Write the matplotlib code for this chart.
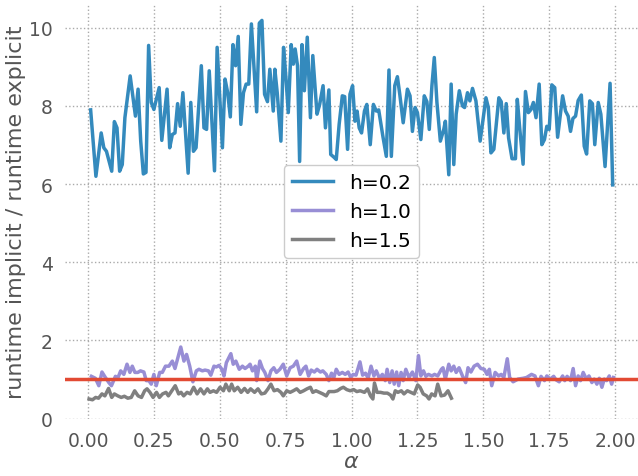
import matplotlib
matplotlib.use("Agg")
import matplotlib.pyplot as plt

# runtime ratio implicit / explicit
alpha_h02 = [0.01, 0.03, 0.05, 0.06, 0.07, 0.09, 0.10, 0.11, 0.12, 0.13, 0.14, 0.16, 0.18, 0.19, 0.20,
             0.21, 0.22, 0.23, 0.24, 0.25, 0.27, 0.28, 0.30, 0.31, 0.32, 0.33, 0.34, 0.35, 0.36, 0.38,
             0.39, 0.40, 0.41, 0.43, 0.44, 0.45, 0.46, 0.48, 0.49, 0.51, 0.52, 0.53, 0.54, 0.55, 0.56,
             0.57, 0.58, 0.59, 0.60, 0.61, 0.62, 0.64, 0.65, 0.66, 0.67, 0.681, 0.690, 0.703, 0.709,
             0.718, 0.732, 0.742, 0.751, 0.760, 0.771, 0.779, 0.786, 0.795, 0.803, 0.812, 0.821, 0.832,
             0.844, 0.853, 0.869, 0.879, 0.892, 0.901, 0.914, 0.921, 0.933, 0.942, 0.953, 0.965, 0.974,
             0.985, 0.994, 1.004, 1.013, 1.021, 1.029, 1.038, 1.049, 1.058, 1.071, 1.083, 1.094, 1.103,
             1.119, 1.132, 1.142, 1.151, 1.164, 1.174, 1.183, 1.196, 1.212, 1.222, 1.231, 1.241, 1.250,
             1.263, 1.276, 1.286, 1.295, 1.305, 1.314, 1.324, 1.337, 1.350, 1.356, 1.369, 1.378, 1.388,
             1.397, 1.409, 1.421, 1.429, 1.440, 1.449, 1.459, 1.472, 1.488, 1.510, 1.519, 1.529, 1.540,
             1.559, 1.568, 1.578, 1.587, 1.596, 1.609, 1.622, 1.629, 1.638, 1.651, 1.660, 1.671, 1.681,
             1.690, 1.700, 1.712, 1.722, 1.732, 1.741, 1.750, 1.760, 1.771, 1.782, 1.801, 1.812, 1.822,
             1.831, 1.840, 1.850, 1.860, 1.872, 1.883, 1.892, 1.904, 1.914, 1.923, 1.936, 1.946, 1.962,
             1.981, 1.991]
ratio_h02 = [7.90, 6.20, 7.31, 6.93, 6.84, 6.33, 7.60, 7.44, 6.33, 6.50, 7.70, 8.77, 7.74, 8.43, 7.10,
             6.26, 6.30, 9.55, 8.09, 7.91, 8.47, 7.12, 8.43, 6.93, 7.27, 7.31, 8.06, 7.48, 8.34, 6.28,
             8.09, 6.84, 6.93, 9.03, 7.44, 7.40, 8.90, 6.34, 9.50, 6.93, 8.69, 8.34, 7.72, 9.57, 9.03,
             9.78, 7.53, 8.34, 8.56, 8.56, 10.10, 7.85, 10.12, 10.19, 8.30, 8.11, 8.94, 7.87, 8.94,
             8.34, 7.10, 9.50, 8.73, 7.83, 9.57, 9.07, 9.46, 9.03, 6.58, 9.57, 8.39, 9.76,
             7.70, 9.29, 7.79, 8.04, 8.52, 7.44, 8.41, 6.76, 6.69, 6.63, 7.53, 8.26, 8.24,
             6.89, 8.30, 8.52, 7.61, 7.87, 7.44, 7.31, 7.87, 8.04, 7.01, 8.04, 7.87, 7.90,
             7.22, 6.71, 8.92, 6.71, 8.52, 8.75, 8.30, 7.57, 8.43, 8.26, 7.35, 7.96, 7.83,
             7.14, 8.26, 8.11, 7.40, 8.52, 9.24, 8.09, 7.10, 7.40, 7.61, 6.24, 8.56, 6.50,
             7.79, 8.39, 8.00, 7.96, 8.34, 8.13, 8.45, 8.13, 7.10, 8.21, 7.96, 6.80, 6.89,
             8.21, 8.11, 7.31, 8.06, 7.18, 6.65, 6.65, 8.17, 7.44, 6.51, 8.37, 7.83, 7.91,
             8.09, 7.70, 8.56, 7.01, 7.14, 7.48, 7.40, 8.54, 8.47, 7.20, 8.26, 7.87, 7.74,
             7.35, 7.68, 7.74, 8.14, 8.28, 6.97, 6.77, 8.13, 8.06, 7.01, 8.09, 7.79, 6.45,
             8.58, 5.98]

alpha_h10 = [0.013, 0.028, 0.041, 0.053, 0.066, 0.079, 0.089, 0.104, 0.114, 0.124, 0.136, 0.148, 0.159,
             0.168, 0.178, 0.189, 0.199, 0.212, 0.221, 0.231, 0.240, 0.250, 0.259, 0.272, 0.282, 0.294,
             0.307, 0.320, 0.330, 0.352, 0.364, 0.374, 0.386, 0.398, 0.411, 0.421, 0.434, 0.444, 0.457,
             0.466, 0.478, 0.487, 0.497, 0.508, 0.516, 0.525, 0.542, 0.551, 0.561, 0.574, 0.586, 0.596,
             0.608, 0.615, 0.624, 0.635, 0.640, 0.652, 0.662, 0.671, 0.683, 0.694, 0.705, 0.715, 0.728,
             0.741, 0.754, 0.767, 0.779, 0.792, 0.805, 0.818, 0.827, 0.837, 0.847, 0.859, 0.869, 0.882,
             0.891, 0.904, 0.914, 0.924, 0.933, 0.942, 0.953, 0.965, 0.976, 0.987, 0.997, 1.006, 1.017,
             1.032, 1.042, 1.053, 1.063, 1.074, 1.085, 1.094, 1.106, 1.117, 1.128, 1.135, 1.145, 1.154,
             1.162, 1.171, 1.179, 1.188, 1.196, 1.206, 1.218, 1.231, 1.244, 1.254, 1.263, 1.273, 1.282,
             1.292, 1.305, 1.315, 1.327, 1.341, 1.347, 1.356, 1.369, 1.378, 1.388, 1.397, 1.408, 1.421,
             1.433, 1.442, 1.453, 1.465, 1.478, 1.491, 1.504, 1.514, 1.523, 1.532, 1.545, 1.558, 1.568,
             1.578, 1.591, 1.600, 1.613, 1.632, 1.651, 1.664, 1.683, 1.696, 1.709, 1.719, 1.732, 1.741,
             1.754, 1.767, 1.776, 1.788, 1.801, 1.809, 1.818, 1.831, 1.841, 1.850, 1.860, 1.869, 1.879,
             1.891, 1.901, 1.912, 1.921, 1.931, 1.940, 1.950, 1.959, 1.968, 1.978, 1.987, 1.994]
ratio_h10 = [1.08, 1.03, 0.84, 1.19, 1.05, 0.92, 0.84, 1.08, 1.05, 1.22, 1.13, 1.39, 1.18,
             1.34, 1.18, 1.18, 1.22, 1.19, 0.97, 0.97, 0.88, 1.13, 0.84, 1.18, 1.18, 1.34,
             1.34, 1.47, 1.28, 1.83, 1.47, 1.64, 1.34, 0.94, 1.22, 1.26, 1.22, 1.24, 1.22,
             1.11, 1.34, 1.32, 1.36, 1.26, 1.09, 1.43, 1.66, 1.39, 1.47, 1.26, 1.34, 1.28,
             1.34, 1.39, 1.22, 1.34, 0.97, 1.47, 1.28, 1.18, 0.97, 1.22, 1.30, 1.18, 1.26,
             1.39, 1.09, 1.30, 1.34, 1.47, 1.13, 1.28, 1.34, 1.09, 1.24, 1.19, 1.26, 1.19,
             1.22, 1.13, 0.97, 1.16, 1.05, 1.26, 1.13, 1.18, 1.13, 1.19, 1.05, 1.13, 1.11,
             1.45, 1.11, 1.16, 1.03, 1.34, 1.09, 1.22, 1.03, 1.13, 0.97, 1.26, 0.92, 1.22,
             0.88, 1.19, 0.84, 1.18, 0.97, 1.26, 1.05, 1.19, 0.97, 1.61, 1.09, 1.22, 1.08,
             1.13, 1.09, 1.13, 1.09, 1.26, 1.30, 1.01, 1.39, 1.22, 1.34, 1.18, 1.30, 1.09,
             0.92, 1.30, 1.19, 1.34, 1.39, 1.28, 1.26, 1.13, 1.26, 0.84, 1.18, 1.09, 1.13,
             1.05, 1.53, 1.05, 0.94, 1.01, 1.03, 1.05, 1.13, 1.09, 0.84, 1.08, 0.97, 1.09,
             1.01, 1.08, 0.99, 0.94, 1.09, 0.97, 1.08, 0.97, 1.28, 0.84, 1.09, 0.97, 1.18,
             1.01, 1.09, 0.92, 1.01, 0.88, 1.03, 0.80, 1.01, 0.97, 1.09, 0.88, 1.05]

alpha_h15 = [0.004, 0.017, 0.029, 0.040, 0.053, 0.064, 0.078, 0.090, 0.100, 0.113, 0.126, 0.138, 0.151,
             0.164, 0.177, 0.190, 0.203, 0.215, 0.224, 0.235, 0.247, 0.260, 0.271, 0.283, 0.296, 0.305,
             0.318, 0.331, 0.344, 0.353, 0.363, 0.376, 0.388, 0.401, 0.414, 0.427, 0.440, 0.453, 0.463,
             0.476, 0.488, 0.501, 0.514, 0.523, 0.536, 0.545, 0.555, 0.568, 0.581, 0.594, 0.606, 0.617,
             0.632, 0.645, 0.658, 0.671, 0.683, 0.694, 0.706, 0.719, 0.732, 0.741, 0.754, 0.767, 0.779,
             0.792, 0.805, 0.818, 0.831, 0.844, 0.853, 0.865, 0.878, 0.891, 0.904, 0.914, 0.934, 0.946,
             0.959, 0.969, 0.982, 0.995, 1.008, 1.020, 1.033, 1.049, 1.061, 1.072, 1.081, 1.087, 1.097,
             1.110, 1.123, 1.136, 1.148, 1.157, 1.166, 1.176, 1.189, 1.199, 1.212, 1.225, 1.238, 1.251,
             1.260, 1.272, 1.285, 1.294, 1.304, 1.317, 1.327, 1.340, 1.353, 1.366, 1.379]
ratio_h15 = [0.50, 0.48, 0.54, 0.52, 0.63, 0.58, 0.77, 0.54, 0.63, 0.58, 0.54, 0.57, 0.52,
             0.54, 0.71, 0.58, 0.54, 0.71, 0.76, 0.67, 0.54, 0.67, 0.54, 0.63, 0.67, 0.58,
             0.71, 0.84, 0.63, 0.67, 0.58, 0.67, 0.63, 0.80, 0.63, 0.76, 0.63, 0.76, 0.67,
             0.71, 0.67, 0.80, 0.71, 0.88, 0.71, 0.88, 0.71, 0.80, 0.67, 0.77, 0.67, 0.76,
             0.67, 0.76, 0.63, 0.65, 0.76, 0.88, 0.71, 0.74, 0.67, 0.58, 0.71, 0.67, 0.71,
             0.76, 0.67, 0.71, 0.76, 0.80, 0.67, 0.71, 0.67, 0.63, 0.58, 0.69, 0.69, 0.71,
             0.77, 0.80, 0.74, 0.71, 0.74, 0.69, 0.71, 0.67, 0.76, 0.58, 0.50, 0.91, 0.67,
             0.67, 0.65, 0.65, 0.60, 0.50, 0.71, 0.67, 0.71, 0.63, 0.71, 0.67, 0.63, 0.86,
             0.80, 0.63, 0.58, 0.50, 0.63, 0.58, 0.88, 0.58, 0.60, 0.71, 0.52]

labels = ["h=0.2", "h=1.0", "h=1.5"]
colors = ["#348ABD", "#988ED5", "#808080"]
x_ticks = [0.00, 0.25, 0.50, 0.75, 1.00, 1.25, 1.50, 1.75, 2.00]
y_ticks = [0, 2, 4, 6, 8, 10]

fig = plt.figure(figsize=(6.38, 4.77), dpi=100)
ax = fig.add_axes([0.102, 0.1205, 0.898, 0.869])

ax.plot(alpha_h02, ratio_h02, color=colors[0], lw=2.5, label=labels[0])
ax.plot(alpha_h10, ratio_h10, color=colors[1], lw=2.5, label=labels[1])
ax.plot(alpha_h15, ratio_h15, color=colors[2], lw=2.5, label=labels[2])
ax.axhline(1.0, color="#E24A33", lw=2.5)

ax.set_xlim(-0.087, 2.087)
ax.set_ylim(0, 10.61)
ax.set_xticks(x_ticks)
ax.set_yticks(y_ticks)
ax.grid(True, linestyle=":", color="#aaaaaa", lw=1.0)
for s in ax.spines.values():
    s.set_visible(False)
ax.tick_params(length=0, pad=9, labelsize=13.5, labelcolor="#555555")

ax.set_xlabel(r"$\alpha$", fontsize=16, color="#555555", labelpad=1)
ax.set_ylabel("runtime implicit / runtime explicit", fontsize=16, color="#555555", labelpad=2)

ax.legend(loc="center", fontsize=14.5, frameon=True, edgecolor="#cccccc", framealpha=1.0)

fig.savefig("out.png", dpi=100)
